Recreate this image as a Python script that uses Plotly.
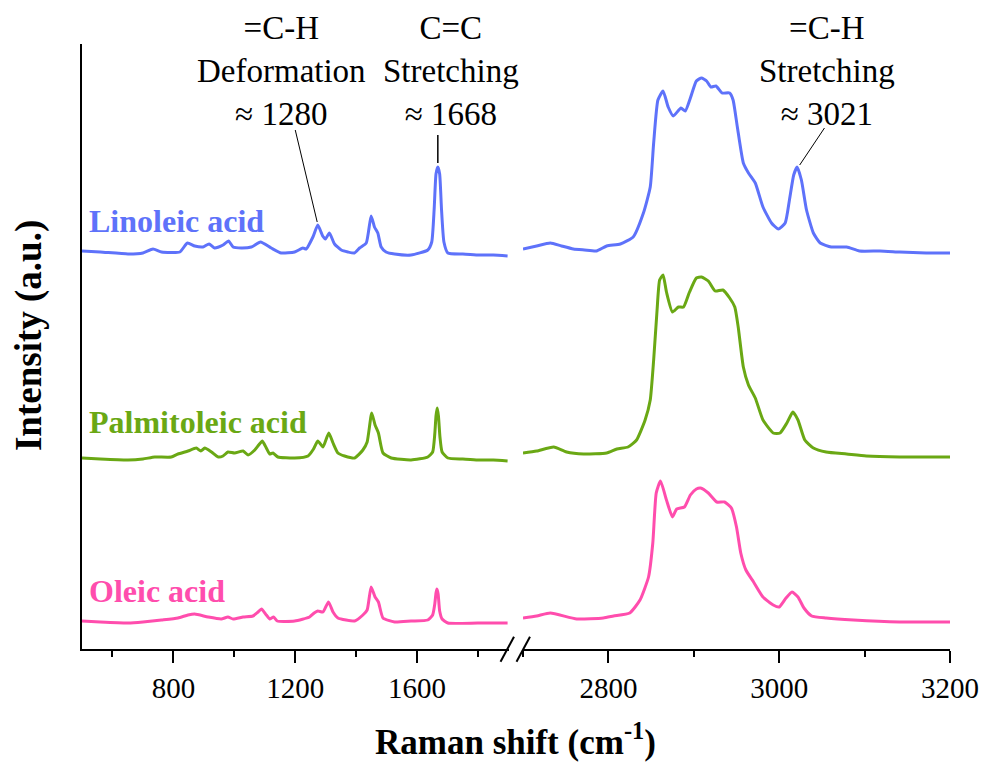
import plotly.graph_objects as go

# ---- data: (Raman shift cm-1, intensity a.u.) ----
lin_left = [(500,398),(560,397),(651,395),(700,396),(733,400),(761,397),(821,397),(846,406),(870,403),
            (897,402),(917,405),(935,401),(963,404),(981,408),(996,402),(1023,401),(1056,402),(1086,407),
            (1121,401),(1154,396),(1198,397),(1225,401),(1236,400),(1258,412),(1274,424),(1290,413),
            (1299,410),(1312,416),(1329,405),(1351,399),(1373,397),(1394,396),(1411,401),(1433,406),
            (1449,433),(1460,422),(1471,416),(1482,402),(1498,397),(1526,395),(1580,394),(1635,399),
            (1648,407),(1656,440),(1662,475),(1668,482),(1674,475),(1680,440),(1688,407),(1701,396),
            (1750,395),(1799,394),(1850,394),(1897,393)]
lin_right = [(2700,400),(2716,403),(2732,406),(2745,403),(2759,400),(2772,399),(2786,398),(2798,403),
             (2814,405),(2829,412),(2841,436),(2849,462),(2853,506),(2858,549),(2864,558),(2870,542),
             (2876,533),(2885,541),(2890,538),(2896,551),(2903,568),(2909,571),(2915,568),(2920,562),
             (2926,563),(2933,556),(2942,556),(2946,549),(2951,522),(2958,486),(2964,476),(2972,466),
             (2981,442),(2991,426),(2999,420),(3007,426),(3012,449),(3017,474),(3021,482),(3026,469),
             (3032,439),(3040,416),(3048,406),(3061,402),(3079,402),(3094,398),(3118,398),(3141,397),
             (3172,396),(3200,396)]

pal_left = [(500,191),(560,190),(651,189),(700,190),(739,192),(793,192),(815,195),(848,198),(875,201),
            (890,198),(903,201),(925,197),(947,192),(963,193),(979,197),(1001,196),(1029,198),(1045,194),
            (1067,199),(1080,204),(1092,208),(1105,201),(1116,195),(1127,196),(1143,192),(1198,191),
            (1242,193),(1260,200),(1274,208),(1291,202),(1310,216),(1324,206),(1340,196),(1362,193),
            (1395,191),(1422,199),(1436,207),(1451,236),(1462,224),(1473,216),(1488,196),(1515,191),
            (1580,189),(1635,192),(1651,197),(1658,215),(1662,233),(1666,241),(1670,233),(1675,212),
            (1682,197),(1701,191),(1750,190),(1799,189),(1850,189),(1897,188)]
pal_right = [(2700,196),(2716,198),(2736,202),(2751,197),(2771,195),(2798,196),(2810,200),(2823,202),
             (2833,209),(2843,229),(2849,249),(2853,289),(2857,339),(2860,369),(2864,374),(2868,357),
             (2875,337),(2882,342),(2888,342),(2895,357),(2903,371),(2909,372),(2917,368),(2925,358),
             (2934,359),(2942,351),(2948,342),(2952,322),(2958,282),(2964,264),(2972,251),(2981,229),
             (2993,216),(3001,216),(3009,226),(3016,237),(3022,229),(3030,209),(3040,201),(3055,197),
             (3079,195),(3102,193),(3141,192),(3200,192)]

ole_left = [(500,28),(560,27),(651,26),(700,27),(761,29),(815,31),(848,34),(870,35),(914,32),(957,30),
            (979,32),(996,30),(1029,32),(1061,33),(1078,37),(1089,40),(1105,34),(1116,30),(1129,32),
            (1141,28),(1198,28),(1247,32),(1262,36),(1274,38),(1291,37),(1309,47),(1324,37),(1340,31),
            (1395,28),(1422,34),(1436,39),(1449,62),(1462,52),(1473,47),(1488,31),(1526,27),(1580,28),
            (1635,29),(1651,34),(1658,45),(1662,56),(1665,60),(1669,55),(1674,38),(1682,30),(1701,26),
            (1799,26),(1897,26)]
ole_right = [(2700,31),(2716,33),(2732,36),(2763,30),(2794,31),(2806,33),(2825,36),(2837,49),(2847,72),
             (2852,106),(2856,156),(2861,168),(2868,149),(2875,132),(2880,140),(2889,142),(2896,154),
             (2903,160),(2908,161),(2917,156),(2927,147),(2936,147),(2944,141),(2950,122),(2955,96),
             (2961,79),(2970,67),(2981,52),(2993,44),(3000,42),(3008,51),(3015,57),(3022,52),(3029,41),
             (3038,33),(3055,31),(3087,29),(3141,27),(3200,27)]

series_names = ["Linoleic acid", "Palmitoleic acid", "Oleic acid"]
series_colors = ["#5E72FA", "#6AA814", "#FF4DAD"]
series_data = [(lin_left, lin_right), (pal_left, pal_right), (ole_left, ole_right)]
label_y = [428, 227, 58]

left_ticks = [800, 1200, 1600]
right_ticks = [2800, 3000, 3200]

FONT = "Liberation Serif, Times New Roman, serif"

# the captured page comes out horizontally squeezed by ~0.992, so lay out slightly wider
SX = 983 / 975

fig = go.Figure()
for name, color, (lft, rgt) in zip(series_names, series_colors, series_data):
    fig.add_trace(go.Scatter(x=[p[0] for p in lft], y=[p[1] for p in lft], mode="lines",
                             line=dict(color=color, width=3, shape="spline", smoothing=0.5),
                             xaxis="x", yaxis="y", showlegend=False, name=name))
    fig.add_trace(go.Scatter(x=[p[0] for p in rgt], y=[p[1] for p in rgt], mode="lines",
                             line=dict(color=color, width=3, shape="spline", smoothing=0.5),
                             xaxis="x2", yaxis="y", showlegend=False, name=name))

W, H = round(983 * SX), 762
ML, MR, MT, MB = 81 * SX, W - 950 * SX, 44, H - 649
PW = W - ML - MR
PH = H - MT - MB


def pxp(px):
    """target-screen x pixel -> paper fraction"""
    return (px * SX - ML) / PW


def pyp(py):
    """target-screen y pixel -> paper fraction"""
    return 1 - (py - MT) / PH


d_left_end = pxp(508)
d_right_start = pxp(522.5)

axis_common = dict(showline=True, linecolor="black", linewidth=2, ticks="outside", ticklen=12,
                   tickwidth=2, tickcolor="black", showgrid=False, zeroline=False,
                   tickfont=dict(family=FONT, size=29, color="black"))

fig.update_layout(
    width=W, height=H, autosize=False,
    margin=dict(l=ML, r=MR, t=MT, b=MB, pad=0),
    paper_bgcolor="white", plot_bgcolor="white",
    xaxis=dict(domain=[0, d_left_end], range=[500, 1900], tickmode="array", tickvals=left_ticks,
               minor=dict(tickmode="linear", tick0=0, dtick=200, ticks="outside", ticklen=6,
                          tickwidth=2, tickcolor="black"),
               anchor="y", **axis_common),
    xaxis2=dict(domain=[d_right_start, 1], range=[2700, 3200], tickmode="array", tickvals=right_ticks,
                minor=dict(tickmode="linear", tick0=0, dtick=100, ticks="outside", ticklen=6,
                           tickwidth=2, tickcolor="black"),
                anchor="y", **axis_common),
    yaxis=dict(domain=[0, 1], range=[0, 605], showline=True, linecolor="black", linewidth=2,
               showticklabels=False, ticks="", showgrid=False, zeroline=False, anchor="x"),
)

# series labels
for name, color, ly in zip(series_names, series_colors, label_y):
    fig.add_annotation(x=518, y=ly, xref="x", yref="y", text=f"<b>{name}</b>", showarrow=False,
                       xanchor="left", yanchor="middle",
                       font=dict(family=FONT, size=32, color=color))

# peak annotations
ann = [
    ("=C-H<br>Deformation<br>≈ 1280", 281, 71),
    ("C=C<br>Stretching<br>≈ 1668", 450, 71),
    ("=C-H<br>Stretching<br>≈ 3021", 827, 71),
]
for txt, px, py in ann:
    fig.add_annotation(x=pxp(px), y=pyp(py), xref="paper", yref="paper", text=txt,
                       showarrow=False, xanchor="center", yanchor="middle", align="center",
                       font=dict(family=FONT, size=33, color="black"))

# leader lines
fig.add_shape(type="line", xref="x", yref="y", x0=1200, y0=519, x1=1272, y1=427,
              line=dict(color="black", width=1))
fig.add_shape(type="line", xref="x", yref="y", x0=1668, y0=514, x1=1668, y1=486,
              line=dict(color="black", width=1.5))
fig.add_shape(type="line", xref="x2", yref="y", x0=3053, y0=521, x1=3024, y1=484,
              line=dict(color="black", width=1))

# axis break marks
for x0 in (500, 516):
    fig.add_shape(type="line", xref="paper", yref="paper", x0=pxp(x0), y0=pyp(661.7),
                  x1=pxp(x0 + 13.5), y1=pyp(636.7), line=dict(color="black", width=2))

# axis titles
fig.add_annotation(x=pxp(515), y=pyp(740), xref="paper", yref="paper",
                   text="<b>Raman shift (cm<sup>-1</sup>)</b>", showarrow=False,
                   xanchor="center", yanchor="middle", font=dict(family=FONT, size=35, color="black"))
fig.add_annotation(x=pxp(28), y=pyp(336), xref="paper", yref="paper",
                   text="<b>Intensity (a.u.)</b>", showarrow=False, textangle=-90,
                   xanchor="center", yanchor="middle", font=dict(family=FONT, size=37, color="black"))

fig.write_html("out.html", config={"displayModeBar": False, "responsive": False},
               post_script="document.body.style.margin='0';document.body.style.overflow='hidden';"
                           "document.documentElement.style.overflow='hidden';")
